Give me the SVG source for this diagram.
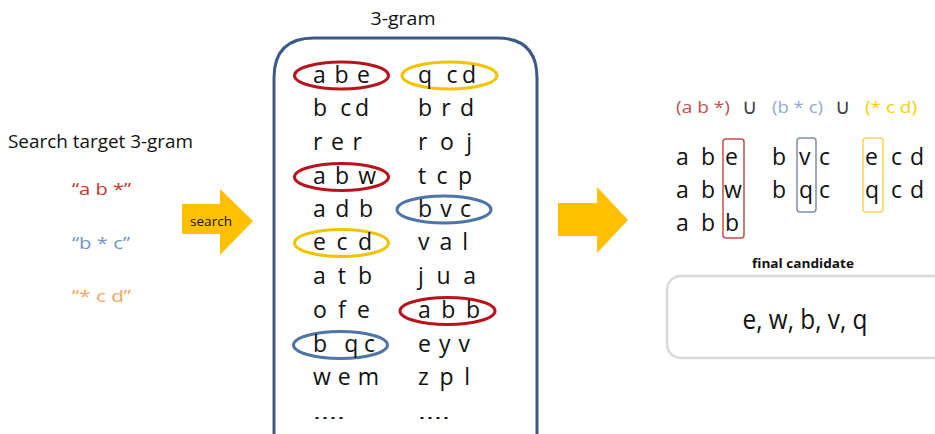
<svg xmlns="http://www.w3.org/2000/svg" width="935" height="434" viewBox="0 0 935 434">
<style>
text{font-family:"Open Sans","Liberation Sans",sans-serif;fill:#111}
.g{font-size:23px}
.hdr{font-size:17px}
.q{font-size:16px}
.el{fill:none;stroke-width:3}
.red{stroke:#b8141e}
.yel{stroke:#f2c400}
.blu{stroke:#4f74a8}
.arrow{fill:#ffc000}
.box{fill:none;stroke-width:1.5}
</style>
<rect width="935" height="434" fill="#fff"/>

<g id="search-target">
<text x="8" y="148" font-size="18" textLength="185" lengthAdjust="spacingAndGlyphs">Search target 3-gram</text>
<text class="q" x="72" y="195" style="fill:#c0392b" textLength="59" lengthAdjust="spacingAndGlyphs">“a b *”</text>
<text class="q" x="72" y="249" style="fill:#6f93c6" textLength="58" lengthAdjust="spacingAndGlyphs">“b * c”</text>
<text class="q" x="72" y="302" style="fill:#f2a65a" textLength="59" lengthAdjust="spacingAndGlyphs">“* c d”</text>
</g>

<g id="connectors">
<polygon class="arrow" points="182,204 220,204 220,189 253,221 220,255 220,234 182,234"/>
<text x="211" y="226" font-size="13" text-anchor="middle" textLength="42" lengthAdjust="spacingAndGlyphs">search</text>
<polygon class="arrow" points="558,203 597,203 597,187 628,220 597,253 597,236 558,236"/>
</g>

<g id="three-gram">
<text x="403" y="25" font-size="18" text-anchor="middle" textLength="65" lengthAdjust="spacingAndGlyphs">3-gram</text>
<path d="M274,460 L274,78 Q274,38 314,38 L497,38 Q537,38 537,78 L537,460" fill="none" stroke="#3d5a86" stroke-width="3"/>
<ellipse class="el red" cx="341.5" cy="75.5" rx="47" ry="13.5"/>
<ellipse class="el yel" cx="449.5" cy="75.5" rx="47.5" ry="13.5"/>
<ellipse class="el red" cx="341.5" cy="177" rx="47" ry="13.5"/>
<ellipse class="el blu" cx="444" cy="209.5" rx="47" ry="13.5"/>
<ellipse class="el yel" cx="341.5" cy="243" rx="47" ry="13.5"/>
<ellipse class="el red" cx="447.5" cy="311" rx="47.5" ry="13.5"/>
<ellipse class="el blu" cx="340.5" cy="345" rx="47" ry="13.5"/>
<g class="g">
<text x="313" y="83" textLength="57">a b e</text>
<text x="313" y="116" textLength="56">b cd</text>
<text x="313" y="150" textLength="49">r e r</text>
<text x="313" y="184" textLength="63">a b w</text>
<text x="313" y="217" textLength="60">a d b</text>
<text x="313" y="250" textLength="59">e c d</text>
<text x="313" y="284" textLength="59">a t b</text>
<text x="313" y="318" textLength="57">o f e</text>
<text x="313" y="352" textLength="62">b qc</text>
<text x="313" y="385" textLength="66">w e m</text>
<text x="313" y="419" font-size="17" textLength="32" lengthAdjust="spacingAndGlyphs">....</text>
<text x="418" y="83" textLength="58">q cd</text>
<text x="418" y="116" textLength="56">b r d</text>
<text x="418" y="150" textLength="54">r o j</text>
<text x="418" y="184" textLength="54">t c p</text>
<text x="418" y="217" textLength="53">b v c</text>
<text x="418" y="250" textLength="50">v a l</text>
<text x="418" y="284" textLength="58">j u a</text>
<text x="418" y="318" textLength="62">a b b</text>
<text x="418" y="352" textLength="52">e y v</text>
<text x="418" y="385" textLength="52">z p l</text>
<text x="418" y="419" font-size="17" textLength="32" lengthAdjust="spacingAndGlyphs">....</text>
</g>
</g>

<g id="union">
<text class="hdr" x="676" y="113" style="fill:#c0504d" textLength="54" lengthAdjust="spacingAndGlyphs">(a b *)</text>
<text x="742" y="114" font-size="21" style="fill:#444">∪</text>
<text class="hdr" x="772" y="113" style="fill:#8faad0" textLength="51" lengthAdjust="spacingAndGlyphs">(b * c)</text>
<text x="835" y="114" font-size="21" style="fill:#444">∪</text>
<text class="hdr" x="865" y="113" style="fill:#f5d000" textLength="52" lengthAdjust="spacingAndGlyphs">(* c d)</text>
<rect class="box" x="723" y="139" width="21" height="99" rx="3" stroke="#c0504d"/>
<rect class="box" x="797" y="138" width="19" height="74" rx="3" stroke="#8090a8"/>
<rect class="box" x="863" y="138" width="20" height="74" rx="3" stroke="#ffd54f"/>
<g class="g">
<text x="676" y="165">a</text><text x="701" y="165">b</text><text x="725" y="165">e</text>
<text x="676" y="198">a</text><text x="701" y="198">b</text><text x="724" y="198">w</text>
<text x="676" y="231">a</text><text x="701" y="231">b</text><text x="725" y="231">b</text>
<text x="772" y="165">b</text><text x="799" y="165">v</text><text x="819" y="165">c</text>
<text x="772" y="198">b</text><text x="799" y="198">q</text><text x="819" y="198">c</text>
<text x="865" y="165">e</text><text x="891" y="165">c</text><text x="910" y="165">d</text>
<text x="865" y="198">q</text><text x="891" y="198">c</text><text x="910" y="198">d</text>
</g>
</g>

<g id="final-candidate">
<text x="803" y="268" font-size="13" font-weight="bold" text-anchor="middle" textLength="102" lengthAdjust="spacingAndGlyphs">final candidate</text>
<rect x="667" y="276" width="300" height="82" rx="14" fill="#fff" stroke="#d9d9d9" stroke-width="2.5"/>
<text x="805" y="329" font-size="28" text-anchor="middle" textLength="125" lengthAdjust="spacingAndGlyphs">e, w, b, v, q</text>
</g>
</svg>
